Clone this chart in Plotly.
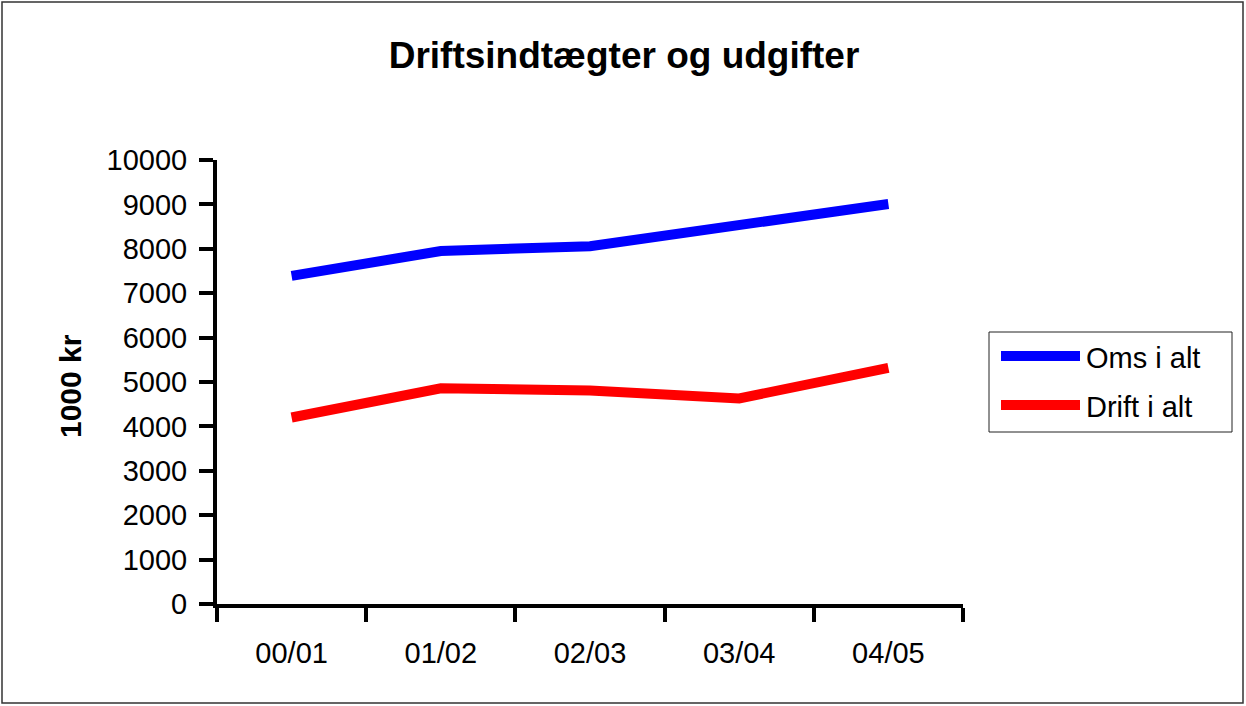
import plotly.graph_objects as go

# data
aar = ["00/01", "01/02", "02/03", "03/04", "04/05"]
oms_i_alt = [7390, 7950, 8060, 8560, 9010]
drift_i_alt = [4200, 4860, 4810, 4630, 5320]

serie_navne = ["Oms i alt", "Drift i alt"]
serie_farver = ["#0000FF", "#FF0000"]

# figure/plot geometry (pixels)
W, H = 1246, 706
L, R, T, B = 217, 963, 160, 604
FONT = "Liberation Sans, Arial, sans-serif"


def px_x(p):
    return (p - L) / (R - L)


def px_y(p):
    return (B - p) / (B - T)


fig = go.Figure()
for navn, vals, farve in zip(serie_navne, [oms_i_alt, drift_i_alt], serie_farver):
    fig.add_trace(go.Scatter(
        x=aar, y=vals, name=navn, mode="lines",
        line=dict(color=farve, width=10),
        showlegend=False,
    ))

# outer frame
shapes = [dict(type="rect", xref="paper", yref="paper",
               x0=px_x(2), x1=px_x(1243), y0=px_y(703), y1=px_y(2),
               line=dict(color="#333333", width=1.5), layer="below")]

# manual legend (box + long line samples, like the Excel original)
shapes.append(dict(type="rect", xref="paper", yref="paper",
                   x0=px_x(989), x1=px_x(1232), y0=px_y(432), y1=px_y(332),
                   line=dict(color="#222222", width=1)))
annotations = []
for i, (navn, farve) in enumerate(zip(serie_navne, serie_farver)):
    yy = 356 + i * 49
    shapes.append(dict(type="line", xref="paper", yref="paper",
                       x0=px_x(1001), x1=px_x(1080), y0=px_y(yy), y1=px_y(yy),
                       line=dict(color=farve, width=10)))
    annotations.append(dict(text=navn, xref="paper", yref="paper",
                            x=px_x(1084), y=px_y(yy + 2), xanchor="left", yanchor="middle",
                            showarrow=False, font=dict(family=FONT, size=29, color="black")))

# y-axis title
annotations.append(dict(text="<b>1000 kr</b>", xref="paper", yref="paper",
                        x=px_x(70), y=px_y(386), textangle=-90,
                        xanchor="center", yanchor="middle", showarrow=False,
                        font=dict(family=FONT, size=30, color="black")))

fig.update_layout(
    width=W, height=H,
    paper_bgcolor="white", plot_bgcolor="white",
    margin=dict(l=L, r=W - R, t=T, b=H - B, pad=0),
    title=dict(text="<b>Driftsindtægter og udgifter</b>",
               x=624 / W, xanchor="center", y=1 - 55 / H, yanchor="middle",
               font=dict(family=FONT, size=37, color="black")),
    font=dict(family=FONT, size=29, color="black"),
    xaxis=dict(
        type="category", range=[-0.5, 4.5],
        showline=True, linecolor="black", linewidth=4,
        ticks="outside", ticklen=14, tickwidth=4, tickcolor="black",
        tickson="boundaries", showgrid=False, zeroline=False,
        ticklabelstandoff=20,
    ),
    yaxis=dict(
        range=[0, 10000], dtick=1000, tickformat="d",
        showline=True, linecolor="black", linewidth=4,
        ticks="outside", ticklen=14, tickwidth=4, tickcolor="black",
        showgrid=False, zeroline=False,
        ticklabelstandoff=6,
    ),
    shapes=shapes,
    annotations=annotations,
    showlegend=False,
)

# remove the page's default body margin so the figure sits at 0,0
fig.write_html("out.html", config={"displayModeBar": False},
               post_script="document.body.style.margin='0';")
